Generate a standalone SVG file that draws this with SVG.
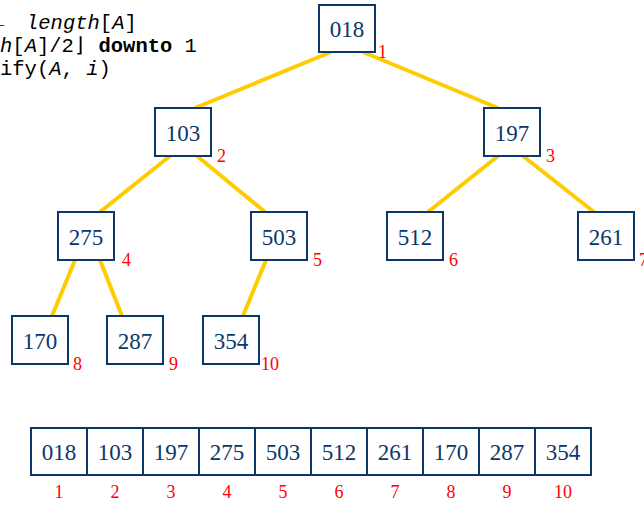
<svg xmlns="http://www.w3.org/2000/svg" width="644" height="506" viewBox="0 0 644 506">
  <style>
    .box { fill: #ffffff; stroke: #0d3768; stroke-width: 2; }
    .val { font-family: "Liberation Serif", "Times New Roman", serif; font-size: 23px; fill: #0d3768; text-anchor: middle; }
    .idx { font-family: "Liberation Serif", "Times New Roman", serif; font-size: 18px; fill: #ff0000; }
    .idc { text-anchor: middle; }
    .edge { stroke: #ffcc00; stroke-width: 4; stroke-linecap: butt; fill: none; }
    .code { font-family: "Liberation Mono", "DejaVu Sans Mono", monospace; font-size: 20.5px; fill: #000000; }
    .it { font-style: italic; }
    .bf { font-weight: bold; }
  </style>

  <!-- pseudocode fragment at upper left -->
  <g id="pseudocode">
    <text class="code" y="29"><tspan x="-8">←</tspan><tspan x="26" class="it">length</tspan>[<tspan class="it">A</tspan>]</text>
    <text class="code" y="52" x="0"><tspan class="it">h</tspan>[<tspan class="it">A</tspan>]/2⌋ <tspan class="bf">downto</tspan> 1</text>
    <text class="code" y="75" x="0">ify(<tspan class="it">A</tspan>, <tspan class="it">i</tspan>)</text>
  </g>

  <!-- tree edges -->
  <g id="edges">
    <line class="edge" x1="331" y1="52" x2="195" y2="108"/>
    <line class="edge" x1="363" y1="52" x2="498" y2="108"/>
    <line class="edge" x1="170" y1="156" x2="100" y2="212"/>
    <line class="edge" x1="197" y1="156" x2="265" y2="212"/>
    <line class="edge" x1="498" y1="156" x2="428" y2="212"/>
    <line class="edge" x1="523" y1="156" x2="594" y2="212"/>
    <line class="edge" x1="75" y1="260" x2="52" y2="316"/>
    <line class="edge" x1="100" y1="260" x2="122" y2="316"/>
    <line class="edge" x1="266" y1="260" x2="243" y2="316"/>
  </g>

  <!-- tree nodes -->
  <g id="node1"><rect class="box" x="319" y="5" width="56" height="47"/><text class="val" x="347" y="37">018</text><text class="idx" x="378" y="58">1</text></g>
  <g id="node2"><rect class="box" x="155" y="108" width="56" height="48"/><text class="val" x="183" y="141">103</text><text class="idx" x="217" y="162">2</text></g>
  <g id="node3"><rect class="box" x="484" y="108" width="56" height="48"/><text class="val" x="512" y="141">197</text><text class="idx" x="546" y="162">3</text></g>
  <g id="node4"><rect class="box" x="58" y="212" width="56" height="48"/><text class="val" x="86" y="245">275</text><text class="idx" x="122" y="266">4</text></g>
  <g id="node5"><rect class="box" x="251" y="212" width="56" height="48"/><text class="val" x="279" y="245">503</text><text class="idx" x="313" y="266">5</text></g>
  <g id="node6"><rect class="box" x="387" y="212" width="56" height="48"/><text class="val" x="415" y="245">512</text><text class="idx" x="449" y="266">6</text></g>
  <g id="node7"><rect class="box" x="578" y="212" width="56" height="48"/><text class="val" x="606" y="245">261</text><text class="idx" x="639" y="266">7</text></g>
  <g id="node8"><rect class="box" x="12" y="316" width="56" height="48"/><text class="val" x="40" y="349">170</text><text class="idx" x="73" y="370">8</text></g>
  <g id="node9"><rect class="box" x="107" y="316" width="56" height="48"/><text class="val" x="135" y="349">287</text><text class="idx" x="169" y="370">9</text></g>
  <g id="node10"><rect class="box" x="203" y="316" width="56" height="48"/><text class="val" x="231" y="349">354</text><text class="idx" x="261" y="370">10</text></g>

  <!-- array representation -->
  <g id="array">
    <rect class="box" x="31" y="428" width="56" height="47"/>
    <rect class="box" x="87" y="428" width="56" height="47"/>
    <rect class="box" x="143" y="428" width="56" height="47"/>
    <rect class="box" x="199" y="428" width="56" height="47"/>
    <rect class="box" x="255" y="428" width="56" height="47"/>
    <rect class="box" x="311" y="428" width="56" height="47"/>
    <rect class="box" x="367" y="428" width="56" height="47"/>
    <rect class="box" x="423" y="428" width="56" height="47"/>
    <rect class="box" x="479" y="428" width="56" height="47"/>
    <rect class="box" x="535" y="428" width="56" height="47"/>
    <text class="val" x="59" y="460">018</text>
    <text class="val" x="115" y="460">103</text>
    <text class="val" x="171" y="460">197</text>
    <text class="val" x="227" y="460">275</text>
    <text class="val" x="283" y="460">503</text>
    <text class="val" x="339" y="460">512</text>
    <text class="val" x="395" y="460">261</text>
    <text class="val" x="451" y="460">170</text>
    <text class="val" x="507" y="460">287</text>
    <text class="val" x="563" y="460">354</text>
    <text class="idx idc" x="59" y="498">1</text>
    <text class="idx idc" x="115" y="498">2</text>
    <text class="idx idc" x="171" y="498">3</text>
    <text class="idx idc" x="227" y="498">4</text>
    <text class="idx idc" x="283" y="498">5</text>
    <text class="idx idc" x="339" y="498">6</text>
    <text class="idx idc" x="395" y="498">7</text>
    <text class="idx idc" x="451" y="498">8</text>
    <text class="idx idc" x="507" y="498">9</text>
    <text class="idx idc" x="563" y="498">10</text>
  </g>
</svg>
